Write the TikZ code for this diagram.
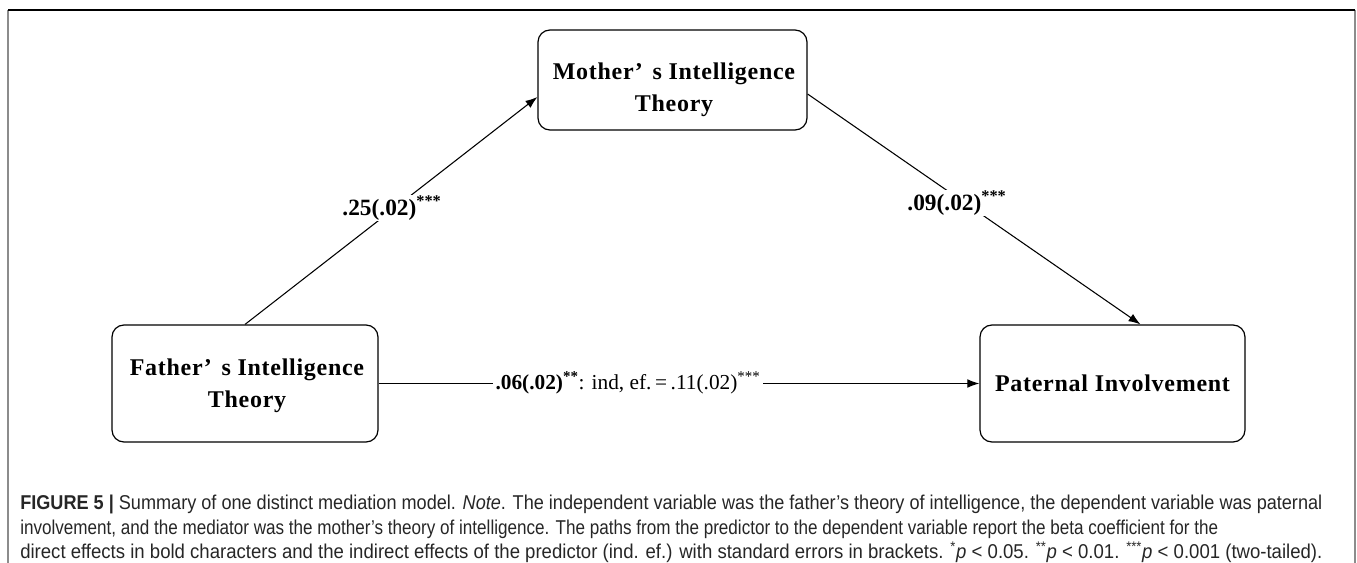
\documentclass[tikz,border=0pt]{standalone}
\usepackage{fontspec}
\usepackage{graphicx}
\setmainfont{Liberation Serif}
\newfontfamily\boxfont[LetterSpace=3]{Liberation Serif}
\newfontfamily\capfont[FakeStretch=0.88]{Liberation Sans}
\newcommand{\capfit}[2]{\resizebox{#1}{\height}{#2}}
\usetikzlibrary{arrows.meta,calc}
\begin{document}
\begin{tikzpicture}[x=0.75pt,y=-0.75pt,
  varbox/.style={draw, line width=0.9pt, rounded corners=9pt, inner sep=0pt},
  vartext/.style={font=\boxfont\bfseries\fontsize{18}{24}\selectfont, align=center, inner sep=0pt},
  coef/.style={font=\bfseries\fontsize{17.5}{20}\selectfont, inner sep=1pt, fill=white},
  link/.style={line width=0.8pt, -{Latex[length=9pt,width=6.5pt]}},
  capline/.style={anchor=base west, inner sep=0pt, text=black!85, font=\capfont\fontsize{15}{18}\selectfont}
]
\useasboundingbox (0,0) rectangle (1357,563);
% frame
\draw[black!45, line width=1.3pt] (8,563) -- (8,10);
\draw[black!45, line width=1.3pt] (1355,10) -- (1355,563);
\draw[black, line width=1.1pt] (8,10) -- (1355,10);

% boxes
\node[varbox, minimum width=269*0.75pt, minimum height=100*0.75pt] (mother) at (672.5,80) {};
\node[varbox, minimum width=266*0.75pt, minimum height=117*0.75pt] (father) at (245,383.5) {};
\node[varbox, minimum width=265*0.75pt, minimum height=117*0.75pt] (paternal) at (1112.5,383.5) {};

\node[vartext] (mtext) at (674,90) {Mother’\hspace{0.4em}s Intelligence\\Theory};
\node[vartext] (ftext) at (247,386) {Father’\hspace{0.4em}s Intelligence\\Theory};
\node[vartext] (ptext) at (1112.5,383) {Paternal Involvement};

% connectors
\coordinate (mtarget) at ($(mother.west)+(0,17)$);
\coordinate (msource) at ($(mother.east)+(0,14)$);
\coordinate (ptarget) at ($(paternal.north)+(28,0)$);
\draw[link] (father.north) -- (mtarget);
\draw[link] (msource) -- (ptarget);
\draw[link] (father.east) -- (paternal.west);

% labels
\node[coef] (l1) at (392,208) {.25(.02)\textsuperscript{***}};
\node[coef] (l2) at (957,203) {.09(.02)\textsuperscript{***}};
\node[coef, font=\bfseries\fontsize{16}{20}\selectfont, inner xsep=2pt] (l3) at (628,383) {.06(.02)\textsuperscript{**}\mdseries: ind, ef.\,=\,.11(.02)\textsuperscript{***}};

% caption
\node[capline] (c1) at (20,509) {\capfit{976.5pt}{\textbf{FIGURE 5 |} Summary of one distinct mediation model. \textit{Note}. The independent variable was the father’s theory of intelligence, the dependent variable was paternal}};
\node[capline] (c2) at (20,534) {\capfit{898.5pt}{involvement, and the mediator was the mother’s theory of intelligence. The paths from the predictor to the dependent variable report the beta coefficient for the}};
\node[capline] (c3) at (20,558) {\capfit{976.5pt}{direct effects in bold characters and the indirect effects of the predictor (ind. ef.) with standard errors in brackets. \textsuperscript{*}\textit{p} < 0.05. \textsuperscript{**}\textit{p} < 0.01. \textsuperscript{***}\textit{p} < 0.001 (two-tailed).}};
\end{tikzpicture}
\end{document}
